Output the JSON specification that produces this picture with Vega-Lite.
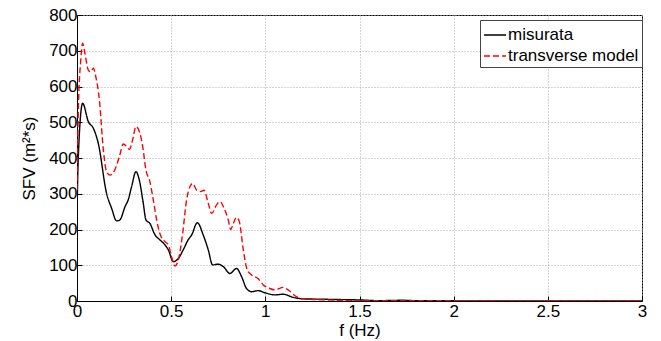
{
  "$schema": "https://vega.github.io/schema/vega-lite/v6.json",
  "autosize": "none",
  "width": 565,
  "height": 286,
  "padding": {"left": 77, "top": 15, "right": 19, "bottom": 40},
  "background": "white",
  "config": {
    "font": "Liberation Sans",
    "view": {"stroke": "black", "strokeWidth": 1},
    "axis": {
      "labelFont": "Liberation Sans",
      "titleFont": "Liberation Sans",
      "labelFontSize": 17,
      "titleFontSize": 17,
      "titleFontWeight": "normal",
      "labelColor": "black",
      "titleColor": "black",
      "domainColor": "black",
      "tickColor": "black",
      "tickSize": -5,
      "gridColor": "#aaaaaa",
      "gridDash": [1, 2],
      "gridWidth": 1
    }
  },
  "data": {
    "values": [
      {"f": 0, "S": 245, "series": "misurata"},
      {"f": 0.007, "S": 404, "series": "misurata"},
      {"f": 0.03, "S": 553, "series": "misurata"},
      {"f": 0.06, "S": 502, "series": "misurata"},
      {"f": 0.087, "S": 483, "series": "misurata"},
      {"f": 0.113, "S": 441, "series": "misurata"},
      {"f": 0.157, "S": 301, "series": "misurata"},
      {"f": 0.184, "S": 259, "series": "misurata"},
      {"f": 0.21, "S": 224, "series": "misurata"},
      {"f": 0.228, "S": 227, "series": "misurata"},
      {"f": 0.255, "S": 264, "series": "misurata"},
      {"f": 0.272, "S": 283, "series": "misurata"},
      {"f": 0.29, "S": 320, "series": "misurata"},
      {"f": 0.313, "S": 362, "series": "misurata"},
      {"f": 0.331, "S": 338, "series": "misurata"},
      {"f": 0.352, "S": 273, "series": "misurata"},
      {"f": 0.366, "S": 227, "series": "misurata"},
      {"f": 0.387, "S": 217, "series": "misurata"},
      {"f": 0.414, "S": 185, "series": "misurata"},
      {"f": 0.44, "S": 171, "series": "misurata"},
      {"f": 0.467, "S": 157, "series": "misurata"},
      {"f": 0.485, "S": 143, "series": "misurata"},
      {"f": 0.511, "S": 110, "series": "misurata"},
      {"f": 0.538, "S": 119, "series": "misurata"},
      {"f": 0.564, "S": 143, "series": "misurata"},
      {"f": 0.59, "S": 171, "series": "misurata"},
      {"f": 0.609, "S": 185, "series": "misurata"},
      {"f": 0.639, "S": 219, "series": "misurata"},
      {"f": 0.67, "S": 185, "series": "misurata"},
      {"f": 0.697, "S": 143, "series": "misurata"},
      {"f": 0.72, "S": 101, "series": "misurata"},
      {"f": 0.75, "S": 103, "series": "misurata"},
      {"f": 0.777, "S": 96, "series": "misurata"},
      {"f": 0.812, "S": 77, "series": "misurata"},
      {"f": 0.847, "S": 91, "series": "misurata"},
      {"f": 0.874, "S": 68, "series": "misurata"},
      {"f": 0.9, "S": 35, "series": "misurata"},
      {"f": 0.927, "S": 26, "series": "misurata"},
      {"f": 0.962, "S": 29, "series": "misurata"},
      {"f": 0.998, "S": 23, "series": "misurata"},
      {"f": 1.05, "S": 17, "series": "misurata"},
      {"f": 1.095, "S": 19, "series": "misurata"},
      {"f": 1.148, "S": 10, "series": "misurata"},
      {"f": 1.2, "S": 6, "series": "misurata"},
      {"f": 1.3, "S": 5, "series": "misurata"},
      {"f": 1.4, "S": 4, "series": "misurata"},
      {"f": 1.5, "S": 3, "series": "misurata"},
      {"f": 1.6, "S": 1, "series": "misurata"},
      {"f": 1.73, "S": 2, "series": "misurata"},
      {"f": 1.8, "S": 1, "series": "misurata"},
      {"f": 2.0, "S": 0.5, "series": "misurata"},
      {"f": 2.5, "S": 0.3, "series": "misurata"},
      {"f": 3.0, "S": 0.2, "series": "misurata"},
      {"f": 0, "S": 310, "series": "transverse model"},
      {"f": 0.007, "S": 534, "series": "transverse model"},
      {"f": 0.02, "S": 674, "series": "transverse model"},
      {"f": 0.03, "S": 721, "series": "transverse model"},
      {"f": 0.042, "S": 693, "series": "transverse model"},
      {"f": 0.06, "S": 646, "series": "transverse model"},
      {"f": 0.073, "S": 641, "series": "transverse model"},
      {"f": 0.087, "S": 651, "series": "transverse model"},
      {"f": 0.1, "S": 627, "series": "transverse model"},
      {"f": 0.119, "S": 562, "series": "transverse model"},
      {"f": 0.14, "S": 422, "series": "transverse model"},
      {"f": 0.157, "S": 362, "series": "transverse model"},
      {"f": 0.175, "S": 352, "series": "transverse model"},
      {"f": 0.2, "S": 366, "series": "transverse model"},
      {"f": 0.225, "S": 404, "series": "transverse model"},
      {"f": 0.246, "S": 439, "series": "transverse model"},
      {"f": 0.264, "S": 432, "series": "transverse model"},
      {"f": 0.278, "S": 424, "series": "transverse model"},
      {"f": 0.295, "S": 450, "series": "transverse model"},
      {"f": 0.313, "S": 488, "series": "transverse model"},
      {"f": 0.331, "S": 474, "series": "transverse model"},
      {"f": 0.349, "S": 432, "series": "transverse model"},
      {"f": 0.366, "S": 366, "series": "transverse model"},
      {"f": 0.387, "S": 334, "series": "transverse model"},
      {"f": 0.405, "S": 283, "series": "transverse model"},
      {"f": 0.423, "S": 227, "series": "transverse model"},
      {"f": 0.44, "S": 189, "series": "transverse model"},
      {"f": 0.467, "S": 166, "series": "transverse model"},
      {"f": 0.485, "S": 157, "series": "transverse model"},
      {"f": 0.502, "S": 124, "series": "transverse model"},
      {"f": 0.52, "S": 98, "series": "transverse model"},
      {"f": 0.538, "S": 115, "series": "transverse model"},
      {"f": 0.561, "S": 189, "series": "transverse model"},
      {"f": 0.582, "S": 283, "series": "transverse model"},
      {"f": 0.6, "S": 320, "series": "transverse model"},
      {"f": 0.614, "S": 329, "series": "transverse model"},
      {"f": 0.635, "S": 310, "series": "transverse model"},
      {"f": 0.656, "S": 306, "series": "transverse model"},
      {"f": 0.674, "S": 310, "series": "transverse model"},
      {"f": 0.697, "S": 273, "series": "transverse model"},
      {"f": 0.715, "S": 245, "series": "transverse model"},
      {"f": 0.741, "S": 269, "series": "transverse model"},
      {"f": 0.759, "S": 278, "series": "transverse model"},
      {"f": 0.777, "S": 264, "series": "transverse model"},
      {"f": 0.803, "S": 227, "series": "transverse model"},
      {"f": 0.816, "S": 200, "series": "transverse model"},
      {"f": 0.83, "S": 217, "series": "transverse model"},
      {"f": 0.847, "S": 234, "series": "transverse model"},
      {"f": 0.862, "S": 222, "series": "transverse model"},
      {"f": 0.883, "S": 143, "series": "transverse model"},
      {"f": 0.904, "S": 87, "series": "transverse model"},
      {"f": 0.927, "S": 73, "series": "transverse model"},
      {"f": 0.962, "S": 62, "series": "transverse model"},
      {"f": 0.989, "S": 45, "series": "transverse model"},
      {"f": 1.024, "S": 35, "series": "transverse model"},
      {"f": 1.05, "S": 31, "series": "transverse model"},
      {"f": 1.095, "S": 38, "series": "transverse model"},
      {"f": 1.121, "S": 31, "series": "transverse model"},
      {"f": 1.165, "S": 12, "series": "transverse model"},
      {"f": 1.2, "S": 6, "series": "transverse model"},
      {"f": 1.27, "S": 4, "series": "transverse model"},
      {"f": 1.4, "S": 2, "series": "transverse model"},
      {"f": 1.5, "S": 1, "series": "transverse model"},
      {"f": 1.7, "S": 1, "series": "transverse model"},
      {"f": 2.0, "S": 0.5, "series": "transverse model"},
      {"f": 2.5, "S": 0.3, "series": "transverse model"},
      {"f": 3.0, "S": 0.2, "series": "transverse model"}
    ]
  },
  "mark": {"type": "line", "strokeWidth": 1.4, "clip": true, "interpolate": "monotone"},
  "encoding": {
    "x": {
      "field": "f", "type": "quantitative",
      "scale": {"domain": [0, 3], "nice": false},
      "axis": {"values": [0, 0.5, 1, 1.5, 2, 2.5, 3], "format": "~g", "title": "f (Hz)", "titlePadding": 3, "labelPadding": 7, "labelFlush": false}
    },
    "y": {
      "field": "S", "type": "quantitative",
      "scale": {"domain": [0, 800], "nice": false},
      "axis": {"values": [0, 100, 200, 300, 400, 500, 600, 700, 800], "title": "SFV (m²*s)", "titlePadding": 10, "labelPadding": 5, "labelFlush": false}
    },
    "color": {
      "field": "series", "type": "nominal",
      "scale": {"domain": ["misurata", "transverse model"], "range": ["#000000", "#ff0000"]},
      "legend": {
        "title": null,
        "orient": "none",
        "legendX": 403,
        "legendY": 5,
        "strokeColor": "#444444",
        "fillColor": "white",
        "padding": 3,
        "symbolType": "stroke",
        "symbolSize": 484,
        "symbolStrokeWidth": 1.5,
        "labelFontSize": 17,
        "labelFont": "Liberation Sans",
        "labelColor": "black",
        "labelOffset": 1,
        "rowPadding": 1
      }
    },
    "strokeDash": {
      "field": "series", "type": "nominal",
      "scale": {"domain": ["misurata", "transverse model"], "range": [[1, 0], [6, 3]]},
      "legend": null
    }
  }
}
